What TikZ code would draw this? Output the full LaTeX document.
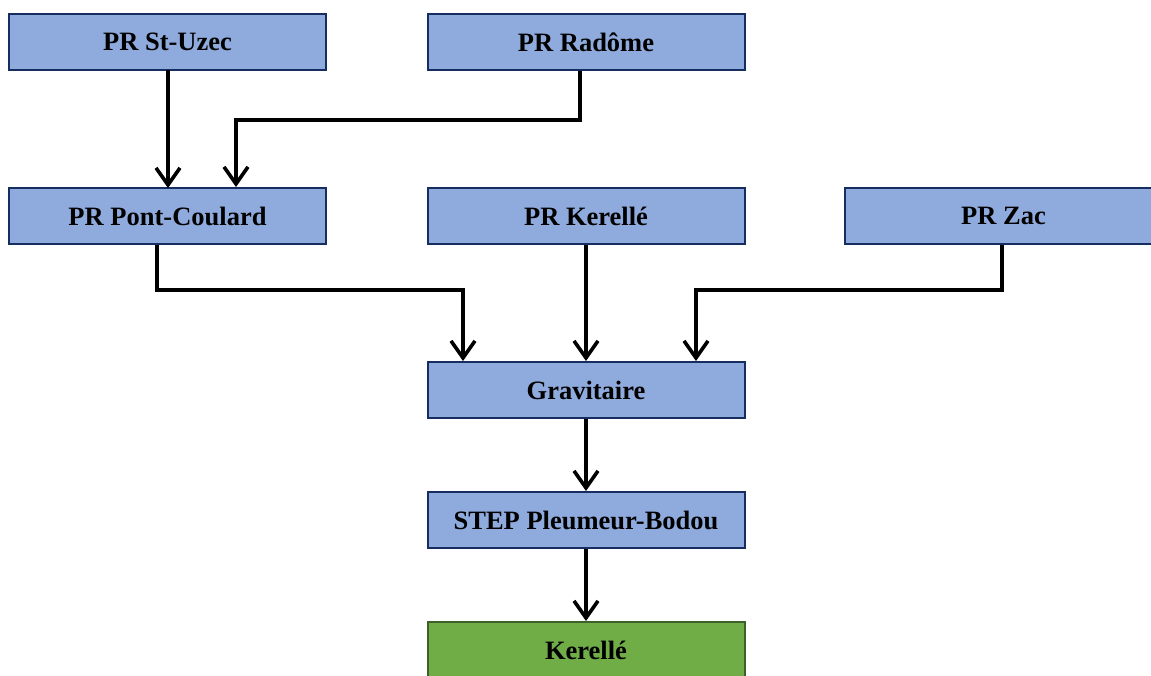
\documentclass[tikz,border=0pt]{standalone}
\usepackage{fontspec}
\setmainfont{Liberation Serif}
\usetikzlibrary{arrows.meta}
\definecolor{boxblue}{RGB}{143,170,220}
\definecolor{boxnavy}{RGB}{22,45,95}
\definecolor{boxgreen}{RGB}{112,173,71}
\definecolor{boxdkgreen}{RGB}{62,95,40}
\tikzset{
  stepbox/.style={draw=boxnavy, fill=boxblue, line width=2pt, minimum width=317pt, minimum height=56pt, inner sep=0pt, font=\fontsize{26.5}{30}\selectfont\bfseries},
  greenbox/.style={stepbox, draw=boxdkgreen, fill=boxgreen},
  flow/.style={line width=3.6pt, -{Straight Barb[length=17pt,width=24pt,line width=3.6pt]}}
}
\begin{document}
\begin{tikzpicture}[x=1pt,y=-1pt]
\useasboundingbox (0,0) rectangle (1151,675);
\clip (0,0) rectangle (1151,675);
\node[stepbox] (uzec) at (167.5,42) {PR St-Uzec};
\node[stepbox] (radome) at (586,42) {PR Radôme};
\node[stepbox] (pont) at (167.5,216) {PR Pont-Coulard};
\node[stepbox] (kerpr) at (586,216) {PR Kerellé};
\node[stepbox] (zac) at (1003.5,216) {PR Zac};
\node[stepbox] (grav) at (586,390) {Gravitaire};
\node[stepbox] (step) at (586,520) {STEP Pleumeur-Bodou};
\node[greenbox] (ker) at (586,650) {Kerellé};
\coordinate (r1) at (580,120);
\coordinate (r2) at (236,120);
\coordinate (p1) at (157,290);
\coordinate (p2) at (463,290);
\coordinate (z1) at (1002,290);
\coordinate (z2) at (696,290);
\draw[flow] (168,70) -- (168,188);
\draw[flow] (radome.south -| r1) -- (r1) -- (r2) -- (r2 |- pont.north);
\draw[flow] (pont.south -| p1) -- (p1) -- (p2) -- (p2 |- grav.north);
\draw[flow] (kerpr.south) -- (grav.north);
\draw[flow] (zac.south -| z1) -- (z1) -- (z2) -- (z2 |- grav.north);
\draw[flow] (grav.south) -- (step.north);
\draw[flow] (step.south) -- (ker.north);
\end{tikzpicture}
\end{document}
